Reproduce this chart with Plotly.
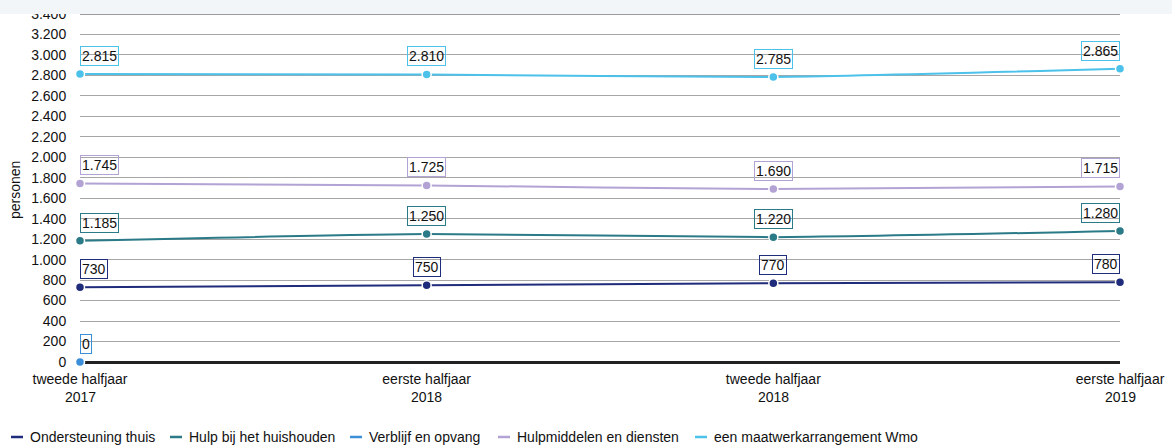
import plotly.graph_objects as go

periods = ["tweede halfjaar", "eerste halfjaar", "tweede halfjaar", "eerste halfjaar"]
years = ["2017", "2018", "2018", "2019"]
series_names = ["Ondersteuning thuis", "Hulp bij het huishouden", "Verblijf en opvang",
                "Hulpmiddelen en diensten", "een maatwerkarrangement Wmo"]
ondersteuning = [730, 750, 770, 780]
huishouden = [1185, 1250, 1220, 1280]
verblijf = [0, None, None, None]
hulpmiddelen = [1745, 1725, 1690, 1715]
maatwerk = [2815, 2810, 2785, 2865]
colors = ["#1f2b7b", "#2b7a87", "#3b8fd9", "#b2a3d4", "#4cc1ea"]
y_ticks = list(range(0, 3401, 200))

W, H = 1172, 445
ML, MR, MT, MB = 80, 52, 14, 83
PW = W - ML - MR
PH = H - MT - MB
FONT = "Liberation Sans, Arial"
FS = 14

def fmt(v):
    return f"{v:,}".replace(",", ".")

def px_x(p):
    return (p - ML) / PW

def px_y(p):
    return (H - MB - p) / PH

all_series = [ondersteuning, huishouden, verblijf, hulpmiddelen, maatwerk]
xs = list(range(len(periods)))

fig = go.Figure()
for name, vals, col in zip(series_names, all_series, colors):
    fig.add_trace(go.Scatter(
        x=xs, y=vals, name=name, mode="lines+markers",
        line=dict(color=col, width=2, shape="spline", smoothing=0.6),
        marker=dict(color=col, size=9, line=dict(color="white", width=1.5)),
        cliponaxis=False, showlegend=False, connectgaps=False,
    ))

annotations = []
n = len(periods)
for vals, col in zip(all_series, colors):
    for i, v in enumerate(vals):
        if v is None:
            continue
        anchor = "left" if i == 0 else ("right" if i == n - 1 else "center")
        annotations.append(dict(
            x=i, y=v, xref="x", yref="y", text=fmt(v), showarrow=False,
            xanchor=anchor, yanchor="bottom", yshift=8,
            font=dict(family=FONT, size=FS, color="#111"),
            bordercolor=col, borderwidth=1, borderpad=1,
        ))

# year line of x tick labels
for i, yr in enumerate(years):
    annotations.append(dict(
        x=i, y=px_y(397), xref="x", yref="paper", text=yr, showarrow=False,
        xanchor="center", yanchor="middle",
        font=dict(family=FONT, size=FS, color="#111"),
    ))

# y-axis title
annotations.append(dict(
    x=px_x(15), y=px_y(190), xref="paper", yref="paper", text="personen",
    textangle=-90, showarrow=False, xanchor="center", yanchor="middle",
    font=dict(family=FONT, size=FS, color="#111"),
))

# legend (manual)
shapes = []
legend_text_x = [28, 187, 367, 515, 712]
legend_y = 437
for name, col, tx in zip(series_names, colors, legend_text_x):
    shapes.append(dict(type="line", xref="paper", yref="paper",
                       x0=px_x(tx - 17), x1=px_x(tx - 5), y0=px_y(legend_y), y1=px_y(legend_y),
                       line=dict(color=col, width=2.5)))
    annotations.append(dict(
        x=px_x(tx), y=px_y(legend_y), xref="paper", yref="paper", text=name,
        showarrow=False, xanchor="left", yanchor="middle",
        font=dict(family=FONT, size=FS, color="#111"),
    ))

# top gridline (darker) and header band
shapes.append(dict(type="line", xref="paper", yref="y", x0=0, x1=1, y0=3400, y1=3400,
                   line=dict(color="#7a7a7a", width=1.5), layer="below"))
shapes.append(dict(type="rect", xref="paper", yref="paper",
                   x0=px_x(0), x1=px_x(W), y0=px_y(14), y1=px_y(-2),
                   fillcolor="#f3f6f9", line=dict(width=0), layer="above"))

fig.update_layout(
    width=W, height=H,
    margin=dict(l=ML, r=MR, t=MT, b=MB, autoexpand=False),
    paper_bgcolor="white", plot_bgcolor="white",
    separators=",.",
    font=dict(family=FONT, size=FS, color="#111"),
    showlegend=False,
    annotations=annotations, shapes=shapes,
    xaxis=dict(
        range=[0, n - 1], tickmode="array", tickvals=xs, ticktext=periods,
        showgrid=False, zeroline=False, showline=False, automargin=False,
        ticks="outside", ticklen=4, tickcolor="rgba(0,0,0,0)",
        tickfont=dict(size=FS, color="#111"),
    ),
    yaxis=dict(
        range=[0, 3400], tickmode="array", tickvals=y_ticks,
        ticktext=[fmt(v) for v in y_ticks], automargin=False,
        showgrid=True, gridcolor="#a6a6a6", gridwidth=1,
        zeroline=True, zerolinecolor="#222222", zerolinewidth=3,
        showline=False, ticks="outside", ticklen=10, tickcolor="rgba(0,0,0,0)",
        tickfont=dict(size=FS, color="#111"),
    ),
)

fig.write_html(
    "out.html",
    config={"displayModeBar": False},
    post_script="document.body.style.margin='0';document.body.style.overflow='hidden';"
                "document.documentElement.style.overflow='hidden';",
)
